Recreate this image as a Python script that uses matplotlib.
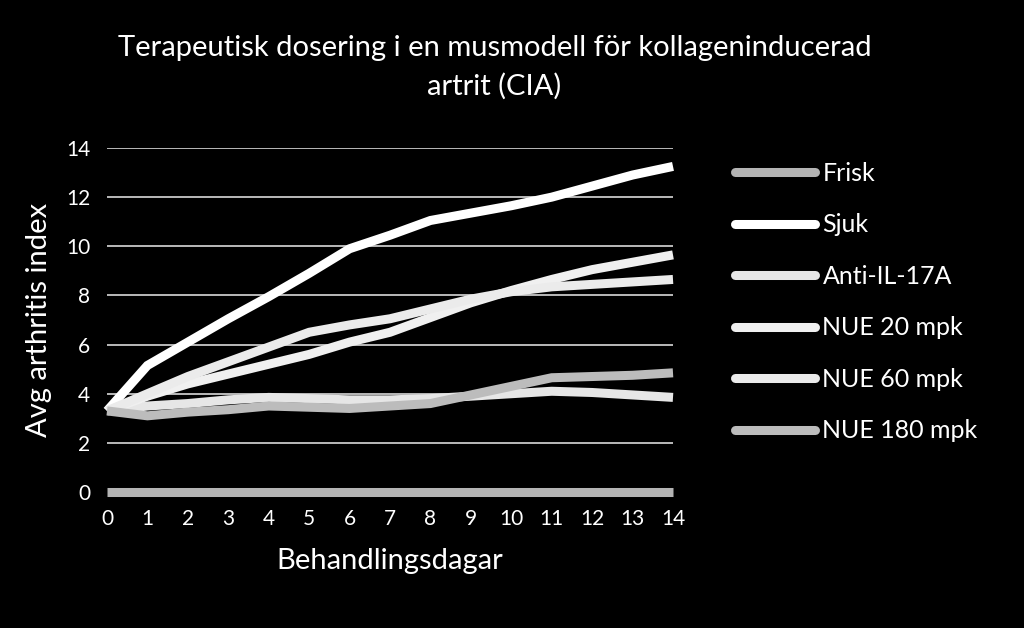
import numpy as np
import matplotlib.pyplot as plt

plt.rcParams['font.family'] = ['Lato', 'DejaVu Sans']

dagar = list(range(15))
frisk = [0.0] * 15
sjuk = [3.3, 5.15, 6.1, 7.05, 7.95, 8.9, 9.9, 10.45, 11.05, 11.35, 11.65, 12.0, 12.45, 12.9, 13.25]
anti_il17a = [3.3, 3.5, 3.6, 3.75, 3.85, 3.8, 3.75, 3.75, 3.8, 3.9, 4.0, 4.1, 4.05, 3.95, 3.85]
nue20 = [3.3, 3.9, 4.4, 4.8, 5.2, 5.6, 6.1, 6.5, 7.1, 7.7, 8.2, 8.65, 9.05, 9.35, 9.65]
nue60 = [3.3, 4.0, 4.7, 5.3, 5.9, 6.5, 6.8, 7.05, 7.45, 7.85, 8.15, 8.35, 8.45, 8.55, 8.65]
nue180 = [3.3, 3.1, 3.25, 3.35, 3.5, 3.45, 3.4, 3.5, 3.6, 3.95, 4.3, 4.65, 4.7, 4.75, 4.85]

serier = [
    ('Frisk', frisk, '#b4b4b4'),
    ('Sjuk', sjuk, '#ffffff'),
    ('Anti-IL-17A', anti_il17a, '#e6e6e6'),
    ('NUE 20 mpk', nue20, '#f0f0f0'),
    ('NUE 60 mpk', nue60, '#ebebeb'),
    ('NUE 180 mpk', nue180, '#bcbcbc'),
]

fig = plt.figure(figsize=(10.24, 6.28), dpi=100, facecolor='black')
ax = fig.add_axes([107/1024, 1-492/628, (673-107)/1024, (492-148)/628], facecolor='black')

for y in range(2, 15, 2):
    ax.axhline(y, color='#c8c8c8', lw=1.3, zorder=1)

for namn, v, c in serier:
    ax.plot(dagar, v, color=c, lw=6.5, label=namn, solid_capstyle='butt',
            solid_joinstyle='miter', clip_on=False, zorder=3)

ax.set_xlim(0, 14)
ax.set_ylim(0, 14)
ax.set_xticks(dagar)
ax.set_yticks(range(0, 15, 2))
for s in ax.spines.values():
    s.set_visible(False)
ax.tick_params(colors='white', labelsize=15, length=0)
ax.tick_params(axis='x', pad=12)
ax.tick_params(axis='y', pad=12)

ax.set_xlabel('Behandlingsdagar', color='white', fontsize=21, labelpad=14)
ax.set_ylabel('Avg arthritis index', color='white', fontsize=21, labelpad=10)
fig.text(0.483, 0.923, 'Terapeutisk dosering i en musmodell för kollageninducerad',
         color='white', fontsize=21, ha='center', va='center')
fig.text(0.483, 0.862, 'artrit (CIA)', color='white', fontsize=21, ha='center', va='center')

leg = ax.legend(loc='upper left', bbox_to_anchor=(1.1095, 0.96), frameon=False,
                fontsize=18, labelcolor='white', handlelength=3.2, handletextpad=0.3,
                labelspacing=1.14, borderpad=0, borderaxespad=0)
for h in leg.get_lines():
    h.set_solid_capstyle('round')
    h.set_linewidth(6.5)

fig.savefig('out.png', dpi=100, facecolor='black')
